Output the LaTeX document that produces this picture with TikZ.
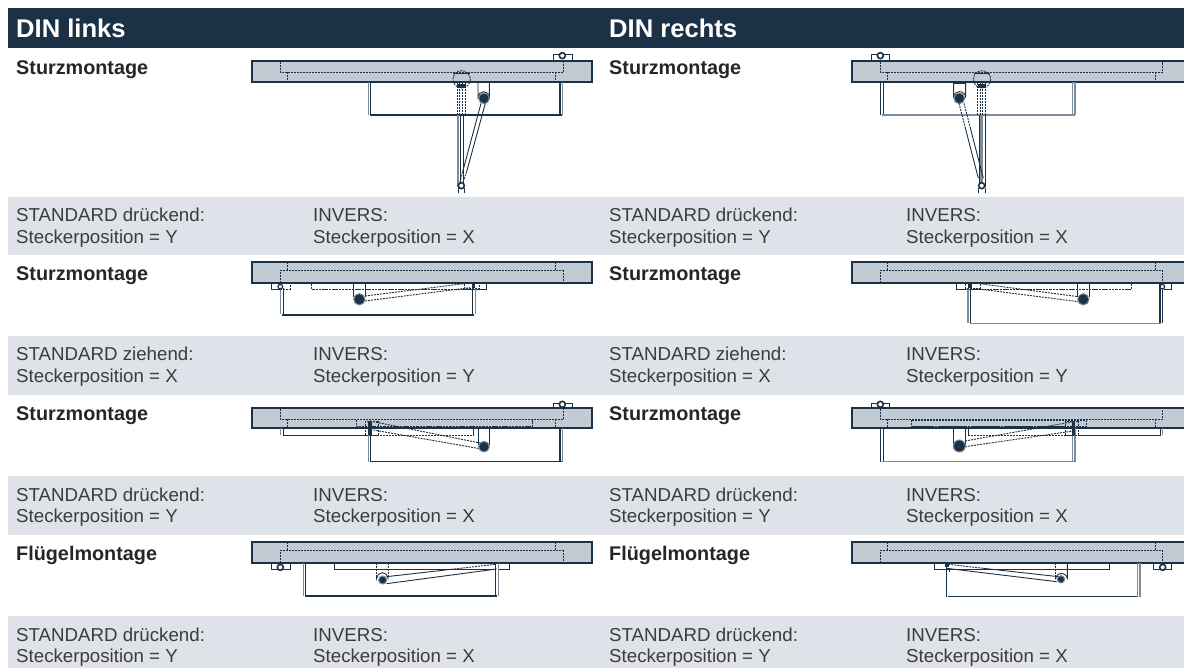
\documentclass[tikz,border=0pt]{standalone}
\usepackage{fontspec}
\setmainfont{Liberation Sans}
\definecolor{navy}{HTML}{1B3145}
\definecolor{band}{HTML}{DFE2E8}
\definecolor{barfill}{HTML}{C2CAD3}
\definecolor{txt}{HTML}{3C3C3E}
\definecolor{midg}{HTML}{7C8C9A}
\tikzset{
  z/.style 2 args={shift={(#1,#2)},x=0.33333pt,y=-0.33333pt},
  barbox/.style={fill=barfill,draw=navy,line width=2pt},
  barline/.style={draw=navy,line width=2pt},
  ln/.style={draw=navy,line width=0.9pt},
  lnb/.style={draw=navy,line width=1.5pt},
  lng/.style={draw=midg,line width=1.6pt},
  dsh/.style={draw=navy,line width=0.9pt,dash pattern=on 2pt off 1pt},
  dshb/.style={draw=navy,line width=1.3pt,dash pattern=on 2.5pt off 0.8pt},
  pin/.style={draw=navy,fill=white,line width=1.6pt},
  hub/.style={fill=navy,draw=midg,line width=1pt},
  head/.style={anchor=base west,text=white,font=\bfseries\fontsize{25.6}{28}\selectfont,inner sep=0pt},
  ttl/.style={anchor=base west,text=black!85,font=\bfseries\fontsize{19.8}{22}\selectfont,inner sep=0pt},
  info/.style={anchor=base west,text=txt,font=\fontsize{18.7}{21}\selectfont,inner sep=0pt},
}
\newcommand{\info}[4]{\node[info] (#1) at (#2,#3) {#4};}
\newcommand{\infoband}[5]{\info{#1a}{#2}{#3}{#4}\info{#1b}{#2}{#3+21.7}{#5}}
\begin{document}
\begin{tikzpicture}[x=1pt,y=-1pt]
\useasboundingbox (0,0) rectangle (1184,668);
\fill[white] (0,0) rectangle (1184,668);
\fill[navy] (8,8) rectangle (1184,48);
\fill[band] (8,197) rectangle (1184,255);
\fill[band] (8,336) rectangle (1184,395);
\fill[band] (8,476) rectangle (1184,535);
\fill[band] (8,616) rectangle (1184,668);
\node[head] (hl) at (16,38) {DIN links};
\node[head] (hr) at (609,38) {DIN rechts};
\foreach \nm/\xx in {l/16,r/609}{
 \node[ttl] (s1\nm) at (\xx,75) {Sturzmontage};
 \node[ttl] (s2\nm) at (\xx,280.5) {Sturzmontage};
 \node[ttl] (s3\nm) at (\xx,420.5) {Sturzmontage};
 \node[ttl] (s4\nm) at (\xx,560.5) {Flügelmontage};
}
\foreach \nm/\xa/\xb in {l/16/313,r/609/906}{
 \infoband{a\nm}{\xa}{222}{STANDARD drückend:}{Steckerposition = Y}
 \infoband{b\nm}{\xb}{222}{INVERS:}{Steckerposition = X}
 \infoband{c\nm}{\xa}{361}{STANDARD ziehend:}{Steckerposition = X}
 \infoband{d\nm}{\xb}{361}{INVERS:}{Steckerposition = Y}
 \infoband{e\nm}{\xa}{501}{STANDARD drückend:}{Steckerposition = Y}
 \infoband{f\nm}{\xb}{501}{INVERS:}{Steckerposition = X}
 \infoband{g\nm}{\xa}{641}{STANDARD drückend:}{Steckerposition = Y}
 \infoband{h\nm}{\xb}{641}{INVERS:}{Steckerposition = X}
}
% ---------- drawing 1 left
\begin{scope}[z={240}{40}]
 \draw[ln,fill=white] (940,62)--(940,43)--(998,43)--(998,62);
 \draw[pin] (967,47) circle (9);
 \path[barbox] (35,63) rectangle (1055,125);
 \draw[dsh] (121,65)--(121,97)--(970,97)--(970,65) (143,97)--(143,122) (947,97)--(947,122);
 \draw[dsh] (665,118) circle (26);
 \draw[lnb] (640,100)--(690,100);
 \draw[lng] (385,125)--(385,225) (968,125)--(968,225);
 \draw[lnb] (392,125)--(392,225) (960,125)--(960,225) (390,225)--(965,225);
 \draw[ln] (714,125)--(714,172) arc (180:360:17) --(748,125);
 \draw[hub] (732,175) circle (16);
 \draw[dsh] (652,130)--(652,225) (659,130)--(659,225) (668,130)--(668,225) (675,130)--(675,225);
 \fill[navy] (650,132) rectangle (678,145);
 \draw[lng,line width=2.2pt] (653,225)--(653,440);
 \draw[ln] (660,225)--(660,430) (671,225)--(671,430);
 \draw[ln] (723,190)--(668,395) (736,190)--(680,395);
 \draw[dsh] (668,395)--(659,430) (680,395)--(668,430);
 \draw[ln] (654,445)--(654,460) (672,445)--(672,460);
 \draw[pin] (664,437) circle (9);
\end{scope}
% ---------- drawing 2 left
\begin{scope}[z={240}{255}]
 \path[barbox] (35,22) rectangle (1055,83);
 \draw[dsh] (143,22)--(143,47) (947,22)--(947,47) (121,83)--(121,47)--(970,47)--(970,83);
 \draw[ln] (121,103)--(94,103)--(94,85);
 \draw[dsh] (121,103)--(150,103)--(150,85);
 \draw[ln] (122,85) -- (740,85)--(740,103)--(670,103);
 \draw[dshb] (215,85)--(215,103)--(680,103);
 \draw[lng] (122,100)--(122,178);
 \draw[lnb] (130,100)--(130,178) (127,180)--(703,180) (698,85)--(698,178);
 \draw[lng] (706,100)--(706,178);
 \draw[ln] (340,85)--(340,125) (377,85)--(377,125);
 \draw[pin,line width=1.2pt] (121,95) circle (7);
 \draw[dsh] (375,123)--(680,85) (375,138)--(690,98);
 \draw[dsh] (672,86) rectangle (718,99);
 \fill[navy] (695,86) rectangle (705,99);
 \draw[hub] (358,133) circle (17);
\end{scope}
% ---------- drawing 3 left
\begin{scope}[z={240}{395}]
 \draw[ln,fill=white] (940,40)--(940,25)--(998,25)--(998,40);
 \draw[pin] (967,28) circle (9);
 \path[barbox] (35,40) rectangle (1055,100);
 \draw[dsh] (121,42)--(121,73)--(970,73)--(970,42) (143,73)--(143,98) (947,73)--(947,98);
 \draw[dsh] (350,75)--(350,95)--(400,95);
 \draw[dshb] (400,94)--(878,94)--(878,75);
 \draw[lng] (122,100)--(122,120);
 \draw[ln] (130,100)--(130,120)--(375,120);
 \draw[dsh] (375,120)--(700,120);
 \draw[lnb] (700,100)--(700,120);
 \draw[lng] (385,100)--(385,200) (968,100)--(968,200);
 \draw[lnb] (392,100)--(392,200) (960,100)--(960,200) (390,200)--(965,200);
 \draw[ln] (714,100)--(714,150) (748,100)--(748,150);
 \draw[dsh] (390,78)--(725,145) (400,105)--(725,162);
 \draw[dsh] (375,78) rectangle (415,120);
 \fill[navy] (385,78) rectangle (395,120);
 \draw[hub] (732,155) circle (16);
\end{scope}
% ---------- drawing 4 left
\begin{scope}[z={240}{535}]
 \path[barbox] (35,22) rectangle (1055,83);
 \draw[dsh] (143,22)--(143,47) (947,22)--(947,47) (121,83)--(121,47)--(970,47)--(970,83);
 \draw[ln] (94,85)--(94,103)--(150,103)--(150,85);
 \draw[pin] (121,97) circle (9);
 \draw[ln] (283,85)--(283,103)--(765,103) (775,103)--(808,103)--(808,85);
 \draw[lng] (190,85)--(190,183) (775,85)--(775,183);
 \draw[lnb] (197,85)--(197,183) (195,183)--(772,183) (767,85)--(767,183);
 \draw[dsh] (410,85)--(410,125) (444,85)--(444,125);
 \draw[ln] (410,125)--(410,130) arc (180:360:17)--(444,125);
 \draw[hub] (428,135) circle (12);
 \draw[ln] (440,125)--(625,104) (440,146)--(770,102);
 \draw[dsh] (625,104)--(765,88);
\end{scope}
% ---------- drawing 1 right
\begin{scope}[z={810}{40}]
 \draw[ln,fill=white] (183,62)--(183,43)--(239,43)--(239,62);
 \draw[pin] (211,47) circle (9);
 \fill[barfill] (125,63) rectangle (1122,125);
 \draw[barline] (1122,63)--(125,63)--(125,125)--(1122,125);
 \draw[dsh] (211,65)--(211,97)--(1058,97)--(1058,65) (232,97)--(232,122) (1037,97)--(1037,122);
 \draw[dsh] (516,118) circle (26);
 \draw[lnb] (491,100)--(541,100);
 \draw[lng] (787,125)--(787,225) (795,125)--(795,225);
 \draw[lnb] (212,125)--(212,225);
 \draw[ln] (219,125)--(219,225);
 \draw[lng] (215,225)--(795,225);
 \fill[navy] (431,125) rectangle (467,133);
 \draw[ln] (431,125)--(431,173) arc (180:360:18) --(467,125);
 \draw[hub] (448,175) circle (16);
 \draw[dsh] (503,130)--(503,225) (510,130)--(510,225) (518,130)--(518,225) (525,130)--(525,225);
 \fill[navy] (503,132) rectangle (528,145);
 \fill[midg] (510,225) rectangle (520,430);
 \draw[ln] (507,225)--(507,430) (525,225)--(525,440);
 \draw[dsh] (447,190)--(465,260) (462,190)--(480,260);
 \draw[ln] (465,260)--(505,415) (480,260)--(520,415);
 \draw[ln] (506,445)--(506,460) (525,445)--(525,460);
 \draw[pin] (515,437) circle (9);
\end{scope}
% ---------- drawing 2 right
\begin{scope}[z={810}{255}]
 \fill[barfill] (125,22) rectangle (1122,83);
 \draw[barline] (1122,22)--(125,22)--(125,83)--(1122,83);
 \draw[dsh] (232,22)--(232,47) (1037,22)--(1037,47) (211,83)--(211,47)--(1058,47)--(1058,83);
 \draw[ln] (510,103)--(440,103)--(440,85);
 \draw[ln] (1050,85)--(1085,85)--(1085,103)--(1062,103);
 \draw[dshb] (480,103)--(965,103)--(965,85);
 \draw[lng,line width=2.2pt] (473,100)--(473,203);
 \draw[lnb] (482,100)--(482,205) (1050,85)--(1050,205);
 \draw[ln] (1057,85)--(1057,205);
 \draw[lng] (480,205)--(1052,205);
 \draw[ln] (803,85)--(803,125) (838,85)--(838,125);
 \draw[dsh] (500,85)--(805,125) (490,100)--(805,140);
 \draw[dsh] (465,86) rectangle (510,99);
 \fill[navy] (475,86) rectangle (485,99);
 \draw[pin,line width=1.2pt] (1057,95) circle (7);
 \draw[hub] (820,133) circle (17);
\end{scope}
% ---------- drawing 3 right
\begin{scope}[z={810}{395}]
 \draw[ln,fill=white] (183,40)--(183,25)--(239,25)--(239,40);
 \draw[pin] (211,28) circle (9);
 \fill[barfill] (125,40) rectangle (1122,100);
 \draw[barline] (1122,40)--(125,40)--(125,100)--(1122,100);
 \draw[dsh] (211,42)--(211,73)--(1058,73)--(1058,42) (232,73)--(232,98) (1037,73)--(1037,98);
 \draw[dsh] (305,75) rectangle (830,94);
 \draw[dshb] (305,94)--(780,94);
 \draw[ln] (805,120)--(1050,120)--(1050,100);
 \draw[lng] (1057,100)--(1057,120);
 \draw[dsh] (475,120)--(790,120);
 \draw[lnb] (475,100)--(475,120);
 \draw[lng] (787,100)--(787,200) (795,100)--(795,200);
 \draw[lnb] (212,100)--(212,200);
 \draw[ln] (219,100)--(219,200);
 \draw[lng] (215,200)--(795,200);
 \draw[ln] (431,100)--(431,150) (465,100)--(465,150);
 \draw[dsh] (465,138)--(790,80) (465,155)--(790,108);
 \draw[dsh] (765,78) rectangle (805,120);
 \fill[navy] (785,78) rectangle (795,120);
 \draw[hub] (448,153) circle (18);
\end{scope}
% ---------- drawing 4 right
\begin{scope}[z={810}{535}]
 \fill[barfill] (125,22) rectangle (1122,83);
 \draw[barline] (1122,22)--(125,22)--(125,83)--(1122,83);
 \draw[dsh] (232,22)--(232,47) (1037,22)--(1037,47) (211,83)--(211,47)--(1058,47)--(1058,83);
 \draw[ln] (1030,85)--(1030,103)--(1085,103)--(1085,85);
 \draw[pin] (1058,97) circle (9);
 \draw[ln] (372,85)--(372,103)--(897,103)--(897,85);
 \draw[lnb] (410,85)--(410,185) (413,185)--(985,185);
 \draw[ln] (417,100)--(417,110);
 \draw[lng] (982,85)--(982,185) (990,85)--(990,185);
 \draw[dsh] (737,85)--(737,125);
 \draw[ln] (772,85)--(772,133) arc (0:-180:17.5)--(737,125);
 \draw[hub] (753,133) circle (11);
 \draw[dsh] (415,88)--(520,100);
 \draw[ln] (520,100)--(745,125) (410,100)--(740,140);
 \fill[navy] (406,85) rectangle (416,97);
\end{scope}
\end{tikzpicture}
\end{document}
